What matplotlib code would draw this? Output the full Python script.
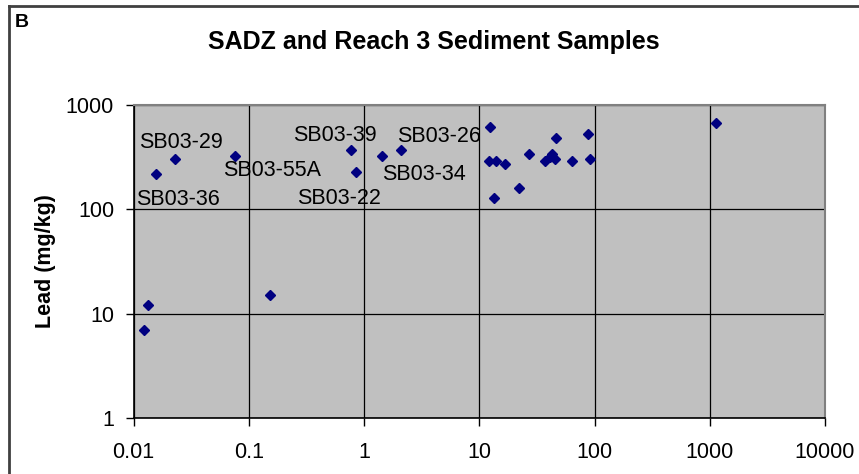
import matplotlib
matplotlib.use("Agg")
import matplotlib.pyplot as plt
from matplotlib.lines import Line2D

plt.rcParams['font.family'] = ['Liberation Sans', 'DejaVu Sans']

# Sediment sample results: x value vs. lead concentration (mg/kg)
x_values = [0.0124, 0.0134, 0.0157, 0.0231, 0.076, 0.152, 0.776, 0.857,
            1.42, 2.09, 12.5, 12.1, 13.9, 16.8, 13.3, 22.3, 27.0, 37.2,
            42.6, 41.5, 45.4, 46.3, 64.1, 88.3, 91.4, 1140]
lead_mg_kg = [6.9, 12.2, 220, 301, 324, 15.1, 370, 228,
              324, 370, 611, 291, 291, 272, 129, 159, 337, 291,
              339, 320, 301, 479, 291, 531, 301, 677]

# Named samples (index into the arrays above)
sample_names = {2: "SB03-36", 3: "SB03-29", 4: "SB03-55A", 6: "SB03-39",
                7: "SB03-22", 8: "SB03-34", 9: "SB03-26"}

x_ticks = [0.01, 0.1, 1, 10, 100, 1000, 10000]
x_tick_labels = ["0.01", "0.1", "1", "10", "100", "1000", "10000"]
y_ticks = [1, 10, 100, 1000]
y_tick_labels = ["1", "10", "100", "1000"]

# label placement (pixel offsets of text centre / baseline from the point)
label_offsets = {2: (21.8, -31.3), 3: (5.5, 11), 4: (36.8, -20),
                 6: (-16.6, 9.3), 7: (-17.3, -32), 8: (42.1, -24),
                 9: (37.7, 8.3)}

W, H = 859, 474
fig = plt.figure(figsize=(W / 100, H / 100), dpi=100)
fig.patch.set_facecolor("white")

ax = fig.add_axes([133.5 / W, 1 - 418 / H, (825 - 133.5) / W, (418 - 105) / H])
ax.set_facecolor("#C0C0C0")
ax.set_xscale("log")
ax.set_yscale("log")
ax.set_xlim(0.01, 10000)
ax.set_ylim(1, 1000)

ax.set_xticks(x_ticks)
ax.set_xticklabels(x_tick_labels)
ax.set_yticks(y_ticks)
ax.set_yticklabels(y_tick_labels)
ax.minorticks_off()
ax.tick_params(axis="both", which="major", direction="out", length=6,
               width=1, color="black", labelsize=15.5, pad=8)
ax.tick_params(axis="x", pad=11)

ax.grid(True, which="major", color="black", linewidth=0.9)
ax.set_axisbelow(True)

for side in ("left", "bottom"):
    ax.spines[side].set_color("black")
    ax.spines[side].set_linewidth(1.2)
for side in ("top", "right"):
    ax.spines[side].set_color("#808080")
    ax.spines[side].set_linewidth(1.5)

ax.plot(x_values, lead_mg_kg, linestyle="none", marker="D", markersize=5.3,
        markerfacecolor="#000080", markeredgecolor="#000080", zorder=3)

for i, name in sample_names.items():
    dx, dy = label_offsets[i]
    ax.annotate(name, (x_values[i], lead_mg_kg[i]), xytext=(dx, dy),
                textcoords="offset pixels", ha="center", va="baseline",
                fontsize=15.5, color="black", zorder=4)

ax.set_ylabel("Lead (mg/kg)", fontsize=15.5, fontweight="bold", labelpad=7)

fig.text(434 / W, 1 - 42 / H, "SADZ and Reach 3 Sediment Samples",
         ha="center", va="center", fontsize=18, fontweight="bold")
fig.text(15 / W, 1 - 27 / H, "B", ha="left", va="baseline",
         fontsize=14, fontweight="bold")

# chart frame (left and top edges)
fig.add_artist(Line2D([9 / W, 9 / W], [0, 1 - 6 / H], transform=fig.transFigure,
                      color="#404040", linewidth=2))
fig.add_artist(Line2D([9 / W, 1], [1 - 6 / H, 1 - 6 / H], transform=fig.transFigure,
                      color="#404040", linewidth=2))

fig.savefig("out.png", dpi=100)
